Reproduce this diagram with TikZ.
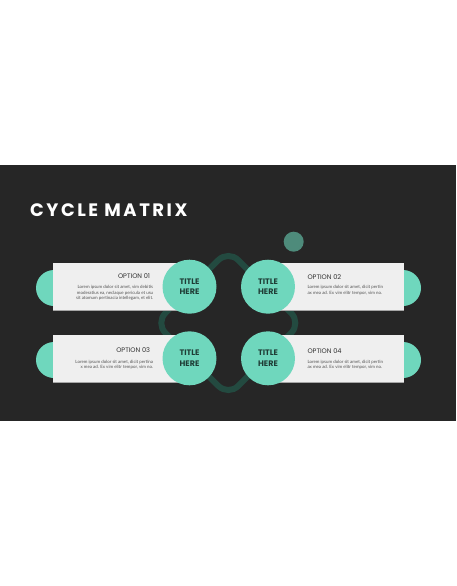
\documentclass[tikz,border=0pt]{standalone}
\usepackage{fontspec}
\setmainfont{Poppins}
\newfontfamily\headfont[LetterSpace=14]{Poppins}
\newfontfamily\bodyfont{Lato}
\usepackage{xcolor}

\definecolor{slate}{HTML}{262626}
\definecolor{mint}{HTML}{6FD7BD}
\definecolor{mintdark}{HTML}{234A40}
\definecolor{mintdull}{HTML}{4E8B7B}
\definecolor{paper}{HTML}{EFEFEF}
\definecolor{ink}{HTML}{333333}
\definecolor{inkteal}{HTML}{1F3D36}

\tikzset{
  card/.style={fill=paper, minimum width=137pt, minimum height=47pt, inner sep=0pt},
  endcap/.style={circle, fill=mint, minimum size=36pt, inner sep=0pt},
  badge/.style={circle, fill=mint, minimum size=54pt, inner sep=0pt, align=center,
    text=inkteal, font=\bfseries\fontsize{8}{10.3}\selectfont},
  optlabel/.style={inner sep=0pt, text=ink, font=\fontsize{6.6}{8}\selectfont},
  blurb/.style={inner sep=0pt, text=ink!85, font=\bodyfont\fontsize{4.4}{5.3}\selectfont}
}

\begin{document}
\begin{tikzpicture}[x=1pt, y=-1pt]
        \useasboundingbox (0, 0) rectangle (456, 586);
        \fill[slate] (0, 165) rectangle (456, 421);

        % title
        \node[anchor=west, inner sep=0pt, text=white, font=\headfont\bfseries\fontsize{18}{20}\selectfont]
            at (30, 209.7) (title) {CYCLE MATRIX};

        % background loop and dot
        \node[draw=mintdark, line width=6pt, rotate=45, minimum size=103pt,
            rounded corners=14pt, inner sep=0pt] at (228.3, 323) (loop) {};
        \node[circle, fill=mintdull, minimum size=20pt, inner sep=0pt] at (293.7, 241.7) (dot) {};

        % cards
        \node[card] at (121.5, 286.7) (c1) {};
        \node[card] at (335.5, 286.7) (c2) {};
        \node[card] at (121.5, 358.3) (c3) {};
        \node[card] at (335.5, 358.3) (c4) {};
        \node[endcap] at (54, 288) (e1) {};
        \node[endcap] at (403, 288) (e2) {};
        \node[endcap] at (54, 360) (e3) {};
        \node[endcap] at (403, 360) (e4) {};
        \fill[paper] (c1.north west) rectangle (c1.south east);
        \fill[paper] (c2.north west) rectangle (c2.south east);
        \fill[paper] (c3.north west) rectangle (c3.south east);
        \fill[paper] (c4.north west) rectangle (c4.south east);
        \draw[gray!70, line width=0.8pt] (c1.south west) -- (c1.south east);
        \draw[gray!70, line width=0.8pt] (c2.south west) -- (c2.south east);
        \draw[gray!70, line width=0.8pt] (c3.south west) -- (c3.south east);
        \draw[gray!70, line width=0.8pt] (c4.south west) -- (c4.south east);

        % badges
        \node[badge] at (189.5, 286.7) (b1) {TITLE\\HERE};
        \node[badge] at (268, 286.7) (b2) {TITLE\\HERE};
        \node[badge] at (189.5, 358.3) (b3) {TITLE\\HERE};
        \node[badge] at (268, 358.3) (b4) {TITLE\\HERE};

        % texts
        \node[optlabel, anchor=east] at (150.3, 275.7) (o1) {OPTION 01};
        \node[blurb, anchor=north east, align=right] at (153.3, 285.3) (t1)
            {Lorem ipsum dolor sit amet, vim debitis\\moderatius ea, neclaque pericula et usu\\sit atomum pertinacia intellegam, et elit.};
        \node[optlabel, anchor=west] at (307.3, 276.7) (o2) {OPTION 02};
        \node[blurb, anchor=north west, align=left] at (307.3, 285.3) (t2)
            {Lorem ipsum dolor sit amet, dicit pertin\\ax mea ad. Ex vim elitr tempor, vim no.};
        \node[optlabel, anchor=east] at (150.3, 350) (o3) {OPTION 03};
        \node[blurb, anchor=north east, align=right] at (153.3, 359.6) (t3)
            {Lorem ipsum dolor sit amet, dicit pertina\\x mea ad. Ex vim elitr tempor, vim no.};
        \node[optlabel, anchor=west] at (307.3, 351) (o4) {OPTION 04};
        \node[blurb, anchor=north west, align=left] at (307.3, 359.6) (t4)
            {Lorem ipsum dolor sit amet, dicit pertin\\ax mea ad. Ex vim elitr tempor, vim no.};
\end{tikzpicture}
\end{document}
